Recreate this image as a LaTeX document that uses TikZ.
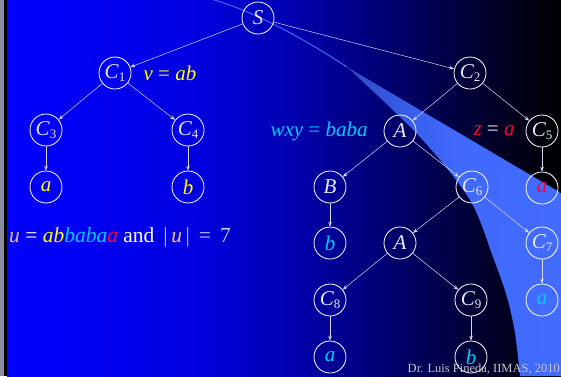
\documentclass[tikz,border=0pt]{standalone}
\usepackage{fontspec}
\setmainfont{Liberation Serif}
\usetikzlibrary{arrows.meta}
\definecolor{amarillo}{HTML}{FFFF00}
\definecolor{cian}{HTML}{00CCFF}
\definecolor{rojo}{HTML}{FF0033}
\definecolor{ocre}{HTML}{F0C080}
\definecolor{textoNodo}{HTML}{E8E8F4}
\definecolor{linea}{HTML}{D8D8EC}
\definecolor{lavanda}{HTML}{C8C8E6}
\definecolor{grisBorde}{HTML}{8A8AA0}
\definecolor{grisFirma}{HTML}{C8C8C8}
\definecolor{cunaClara}{HTML}{3F6CFF}
\pgfdeclarehorizontalshading{fondo}{100bp}{rgb(0bp)=(0,0,1); rgb(25bp)=(0,0,1);
  rgb(42bp)=(0,0,0.88); rgb(51bp)=(0,0,0.68); rgb(60bp)=(0,0,0.42);
  rgb(68bp)=(0,0,0.18); rgb(75bp)=(0,0,0); rgb(100bp)=(0,0,0)}
\pgfdeclarehorizontalshading{cuna}{100bp}{rgb(0bp)=(0.18,0.29,0.76); rgb(25bp)=(0.18,0.29,0.76);
  rgb(40bp)=(0.22,0.37,0.92); rgb(50bp)=(0.25,0.41,0.99); rgb(75bp)=(0.26,0.42,1); rgb(100bp)=(0.26,0.42,1)}
\newcommand{\indice}[1]{\raisebox{-3.5pt}{\fontsize{13}{13}\selectfont\upshape #1}}

\begin{document}
\begin{tikzpicture}[x=1pt, y=-1pt, font=\fontsize{21}{24}\selectfont,
        estado/.style={circle, draw=white, line width=0.8pt, minimum size=32pt, inner sep=0pt,
            text=textoNodo, font=\fontsize{21}{24}\selectfont\itshape},
        arista/.style={-{Stealth[length=5pt,width=3.6pt]}, draw=linea, line width=0.5pt}]
        \useasboundingbox (0,0) rectangle (561,376);
        % fondo y borde
        \shade[shading=fondo] (7,0) rectangle (561,376);
        \fill[grisBorde] (0,0) rectangle (4,376);
        \fill[black] (4,0) rectangle (7,376);
        % cuna clara
        \shade[shading=cuna] (347,67) -- (561,193) -- (561,376)
            -- plot[smooth] coordinates {(520,376) (515,333) (507,297) (493,257) (470,200) (420,137) (347,67)} -- cycle;
        \draw[cunaClara, line width=1pt] (214,0) .. controls (250,10) and (300,36) .. (347,67);
        % arbol
        \node[estado] (S)  at (258,18)  {S};
        \node[estado] (C1) at (115,73)  {C\indice{1}};
        \node[estado] (C2) at (470,73)  {C\indice{2}};
        \node[estado] (C3) at (46,130)  {C\indice{3}};
        \node[estado] (C4) at (188,130) {C\indice{4}};
        \node[estado] (A1) at (400,131) {A};
        \node[estado] (C5) at (542,131) {C\indice{5}};
        \node[estado, text=amarillo] (a1) at (46,187)  {a};
        \node[estado, text=amarillo] (b1) at (188,187) {b};
        \node[estado] (B)  at (330,187) {B};
        \node[estado] (C6) at (472,187) {C\indice{6}};
        \node[estado, text=rojo] (a2) at (542,188) {a};
        \node[estado, text=cian] (b2) at (330,243) {b};
        \node[estado] (A2) at (400,243) {A};
        \node[estado] (C7) at (542,243) {C\indice{7}};
        \node[estado] (C8) at (330,300) {C\indice{8}};
        \node[estado] (C9) at (471,300) {C\indice{9}};
        \node[estado, text=cian] (a3) at (542,300) {a};
        \node[estado, text=cian] (a4) at (330,357) {a};
        \node[estado, text=cian] (b3) at (471,357) {b};
        \foreach \a/\b in {S/C1, S/C2, C1/C3, C1/C4, C3/a1, C4/b1, C2/A1, C2/C5, A1/B, A1/C6,
            B/b2, C6/A2, C6/C7, A2/C8, A2/C9, C5/a2, C7/a3, C8/a4, C9/b3}
            \draw[arista] (\a) -- (\b);
        % etiquetas
        \node[text=amarillo] (v) at (170,73) {\textit{v} = \textit{ab}};
        \node[text=cian] (wxy) at (319,131) {\textit{wxy} = \textit{baba}};
        \node (z) at (494,131) {\textcolor{rojo}{\textit{z}} \textcolor{textoNodo}{=} \textcolor{rojo}{\textit{a}}};
        \node[anchor=west, inner sep=0pt, font=\fontsize{21.5}{24}\selectfont] (u) at (9,237)
            {\textcolor{ocre}{\textit{u}} \textcolor{white}{=}
            \textcolor{amarillo}{\textit{ab}}\textcolor{cian}{\textit{baba}}\textcolor{rojo}{\textit{a}}
            \textcolor{white}{and}\, \textcolor{lavanda}{|}\,\textcolor{ocre}{\textit{u}}\,\textcolor{lavanda}{|}\,
            \textcolor{lavanda}{=\, 7}};
        \node[anchor=base east, inner sep=0pt, text=grisFirma, font=\fontsize{12.5}{14}\selectfont] (firma)
            at (560,372) {Dr. Luis Pineda, IIMAS, 2010};
\end{tikzpicture}
\end{document}
